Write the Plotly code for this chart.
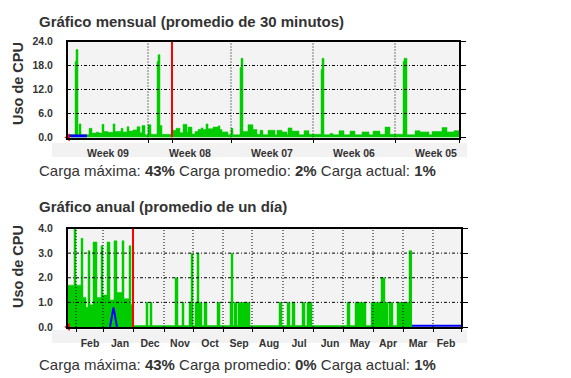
import plotly.graph_objects as go

# ---------------- Monthly graph data (2-hour samples, newest on the left) ----------------
MONTH_SPAN = [7, 1, 2, 1, 2, 8, 3, 4, 3, 3,
              2, 4, 5, 2, 6, 2, 4, 2, 4, 4,
              3, 2, 3, 3, 3, 6, 1, 2, 2, 11,
              3, 4, 3, 4, 1, 4, 3, 3, 3, 2,
              3, 2, 5, 5, 2, 2, 6, 3, 2, 7,
              1, 2, 5, 5, 4, 3, 3, 5, 7, 2,
              5, 5, 1, 4, 7, 5, 5, 12, 1, 2,
              6, 3, 6, 5, 6, 5, 7, 7, 4, 7,
              5, 5, 13, 1, 3, 8, 5, 9, 3, 10,
              5, 7, 5]
MONTH_CPU = [0.7, 19, 22, 0.7, 3.4, 0.7, 2.3, 1.1, 1.3, 1.1,
             3.3, 1.5, 1.3, 3.4, 1.5, 2.3, 1.4, 2.7, 1.6, 1.9,
             2.7, 1.2, 3.0, 0.7, 3.2, 0.8, 19, 20.7, 3.0, 0.8,
             1.8, 2.3, 1.2, 3.3, 1.4, 2.6, 0.9, 1.5, 2.0, 2.4,
             2.0, 3.4, 2.2, 2.6, 2.9, 2.0, 1.4, 0.7, 2.3, 0.7,
             17.5, 19.8, 1.5, 3.2, 2.0, 0.8, 1.8, 0.7, 1.8, 0.7,
             1.8, 1.4, 0.7, 2.4, 1.6, 0.7, 1.7, 0.8, 17, 19.8,
             0.7, 1.0, 0.7, 1.7, 0.7, 1.6, 0.7, 1.4, 0.7, 1.6,
             0.8, 2.6, 0.8, 19, 19.8, 0.7, 1.7, 1.4, 0.7, 1.5,
             2.5, 1.4, 1.7]
MONTH_BLUE_X = [0, 19]
MONTH_BLUE_Y = [0.4, 0.4]
MONTH_RANGE = [0, 391]
MONTH_RED = 104
MONTH_WEEK_BOUNDS = [80, 163, 245, 327]
MONTH_LABEL_POS = [40, 122, 204, 286, 368]
MONTH_LABELS = ["Week 09", "Week 08", "Week 07", "Week 06", "Week 05"]
MONTH_YTICKS = [0, 6, 12, 18, 24]
MONTH_YTEXT = ["0.0", "6.0", "12.0", "18.0", "24.0"]

# ---------------- Yearly graph data (daily samples, newest on the left) ----------------
YEAR_SPAN = [6, 2, 5, 2, 3, 2, 2, 3, 4, 4,
             2, 4, 3, 4, 3, 5, 2, 5, 2, 2,
             13, 2, 2, 2, 23, 3, 4, 2, 5, 2,
             2, 2, 2, 2, 3, 2, 3, 10, 3, 10,
             1, 2, 1, 3, 1, 12, 29, 3, 5, 3,
             2, 3, 7, 3, 2, 5, 35, 3, 5, 11,
             5, 10, 4, 3, 1, 4, 4, 12, 3]
YEAR_CPU = [1.7, 4.0, 1.7, 3.6, 1.2, 0.8, 3.1, 0.9, 3.45, 1.2,
            3.3, 1.3, 3.45, 1.1, 3.5, 1.4, 3.5, 1.15, 3.3, 0.9,
            0.06, 1.0, 0.06, 1.0, 0.06, 2.0, 0.06, 1.0, 0.06, 1.0,
            3.0, 0.06, 1.0, 3.0, 1.0, 0.06, 1.0, 0.06, 1.0, 0.06,
            1.0, 3.0, 0.06, 1.0, 0.06, 1.0, 0.06, 1.0, 0.06, 1.0,
            0.06, 1.0, 0.06, 1.0, 0.06, 1.0, 0.06, 1.0, 0.06, 1.0,
            0.06, 1.0, 2.0, 1.0, 0.06, 1.0, 0.06, 1.0, 3.1]
YEAR_BLUE_X = [42, 45.5, 49, None, 344, 393]
YEAR_BLUE_Y = [0, 0.8, 0, None, 0.05, 0.05]
YEAR_RANGE = [0, 393]
YEAR_RED = 65
YEAR_MONTH_BOUNDS = [8, 35, 96, 125, 155, 184, 215, 245, 275, 305, 335, 365]
YEAR_LABEL_POS = [22, 52, 82, 112, 142, 171, 201, 231, 262, 292, 320, 350, 378]
YEAR_LABELS = ["Feb", "Jan", "Dec", "Nov", "Oct", "Sep", "Aug", "Jul",
               "Jun", "May", "Apr", "Mar", "Feb"]
YEAR_YTICKS = [0, 1, 2, 3, 4]
YEAR_YTEXT = ["0.0", "1.0", "2.0", "3.0", "4.0"]

TITLE_MONTH = "Gráfico mensual (promedio de 30 minutos)"
TITLE_YEAR = "Gráfico anual (promedio de un día)"
STATS_MONTH = ("43%", "2%", "1%")
STATS_YEAR = ("43%", "0%", "1%")
YTITLE = "Uso de CPU"

GREEN = "#00cc00"
BLUE = "#0000ff"
RED = "#ff0000"
TXT = "#333333"
FONT = "Liberation Sans, Arial, sans-serif"
PAGE_OFFSET = 8          # the page body margin shifts the figure by 8 px
W, H = 571 - PAGE_OFFSET, 378 - PAGE_OFFSET


def px(v):
    return (v - PAGE_OFFSET) / W


def py(v):
    return 1 - (v - PAGE_OFFSET) / H


def steps(span, vals):
    xs = [0]
    for s in span:
        xs.append(xs[-1] + s)
    ys = list(vals) + [vals[-1]]
    return xs, ys


fig = go.Figure()

# ---- monthly traces
mx, my = steps(MONTH_SPAN, MONTH_CPU)
fig.add_trace(go.Scatter(x=mx, y=my, mode="lines", line=dict(shape="hv", width=0.5, color=GREEN),
                         fill="tozeroy", fillcolor=GREEN, xaxis="x", yaxis="y",
                         showlegend=False, hoverinfo="skip"))
fig.add_trace(go.Scatter(x=MONTH_BLUE_X, y=MONTH_BLUE_Y, mode="lines", line=dict(color=BLUE, width=3),
                         xaxis="x", yaxis="y", showlegend=False, hoverinfo="skip"))
fig.add_trace(go.Scatter(x=[MONTH_RANGE[0]], y=[0], mode="markers",
                         marker=dict(symbol="triangle-left", size=7, color=RED),
                         cliponaxis=False, xaxis="x", yaxis="y", showlegend=False, hoverinfo="skip"))
fig.add_trace(go.Scatter(x=[None], y=[None], xaxis="x3", yaxis="y", showlegend=False, hoverinfo="skip"))
fig.add_trace(go.Scatter(x=[None], y=[None], xaxis="x", yaxis="y3", showlegend=False, hoverinfo="skip"))

# ---- yearly traces
yx, yy = steps(YEAR_SPAN, YEAR_CPU)
fig.add_trace(go.Scatter(x=yx, y=yy, mode="lines", line=dict(shape="hv", width=0.5, color=GREEN),
                         fill="tozeroy", fillcolor=GREEN, xaxis="x2", yaxis="y2",
                         showlegend=False, hoverinfo="skip"))
fig.add_trace(go.Scatter(x=YEAR_BLUE_X, y=YEAR_BLUE_Y, mode="lines", line=dict(color=BLUE, width=2),
                         xaxis="x2", yaxis="y2", showlegend=False, hoverinfo="skip", connectgaps=False))
fig.add_trace(go.Scatter(x=[YEAR_RANGE[0]], y=[0], mode="markers",
                         marker=dict(symbol="triangle-left", size=7, color=RED),
                         cliponaxis=False, xaxis="x2", yaxis="y2", showlegend=False, hoverinfo="skip"))
fig.add_trace(go.Scatter(x=[None], y=[None], xaxis="x4", yaxis="y2", showlegend=False, hoverinfo="skip"))
fig.add_trace(go.Scatter(x=[None], y=[None], xaxis="x2", yaxis="y4", showlegend=False, hoverinfo="skip"))

tickfont = dict(family=FONT, size=10.5, color=TXT, weight="bold")


def main_x(domain, rng, pos, labels, anchor):
    return dict(domain=domain, range=rng, anchor=anchor, tickmode="array", tickvals=pos, ticktext=labels,
                ticks="", showgrid=False, zeroline=False, showline=True, mirror=True,
                linecolor="black", linewidth=2, tickfont=tickfont, ticklabelstandoff=5,
                fixedrange=True, automargin=False)


def main_y(domain, rng, vals, text, anchor):
    return dict(domain=domain, range=rng, anchor=anchor, tickmode="array", tickvals=vals, ticktext=text,
                ticks="", showgrid=False, zeroline=False, showline=True, mirror=True,
                linecolor="black", linewidth=2, tickfont=tickfont, ticklabelstandoff=11,
                fixedrange=True, automargin=False)


def tick_x(over, anchor, rng, vals):
    return dict(overlaying=over, anchor=anchor, side="bottom", range=rng, tickmode="array",
                tickvals=vals, ticks="outside", ticklen=4, tickwidth=1, tickcolor="black",
                showticklabels=False, showgrid=False, zeroline=False, showline=False,
                automargin=False, fixedrange=True)


def tick_y(over, anchor, rng, vals):
    return dict(overlaying=over, anchor=anchor, side="right", range=rng, tickmode="array",
                tickvals=vals, ticks="outside", ticklen=6, tickwidth=1, tickcolor="black",
                showticklabels=False, showgrid=False, zeroline=False, showline=False,
                automargin=False, fixedrange=True)


shapes = []
# label strips
for top, bot in [(143, 157), (330, 343)]:
    shapes.append(dict(type="rect", xref="paper", yref="paper", x0=px(52), x1=px(467),
                       y0=py(bot), y1=py(top), fillcolor="#f2f2f2", line=dict(width=0), layer="below"))

# monthly grid
for v in MONTH_WEEK_BOUNDS:
    shapes.append(dict(type="line", xref="x", yref="y", x0=v, x1=v, y0=0, y1=MONTH_YTICKS[-1],
                       line=dict(color="black", width=1, dash="1px,2px"), layer="above"))
for h in MONTH_YTICKS[1:-1]:
    shapes.append(dict(type="line", xref="x", yref="y", x0=MONTH_RANGE[0], x1=MONTH_RANGE[1], y0=h, y1=h,
                       line=dict(color="black", width=1, dash="3px,2px,1px,2px"), layer="above"))
shapes.append(dict(type="line", xref="x", yref="y", x0=MONTH_RED, x1=MONTH_RED, y0=0, y1=MONTH_YTICKS[-1],
                   line=dict(color=RED, width=2), layer="above"))

# yearly grid
for v in YEAR_MONTH_BOUNDS:
    shapes.append(dict(type="line", xref="x2", yref="y2", x0=v, x1=v, y0=0, y1=YEAR_YTICKS[-1],
                       line=dict(color="black", width=1, dash="1px,2px"), layer="above"))
for h in YEAR_YTICKS[1:-1]:
    shapes.append(dict(type="line", xref="x2", yref="y2", x0=YEAR_RANGE[0], x1=YEAR_RANGE[1], y0=h, y1=h,
                       line=dict(color="black", width=1, dash="3px,2px,1px,2px"), layer="above"))
shapes.append(dict(type="line", xref="x2", yref="y2", x0=YEAR_RED, x1=YEAR_RED, y0=0, y1=YEAR_YTICKS[-1],
                   line=dict(color=RED, width=2), layer="above"))


def stats_text(s):
    return ("Carga máxima: <b>%s</b> Carga promedio: <b>%s</b> Carga actual: <b>%s</b>" % s)


def note(text, x, y, size, angle=0, anchor="left"):
    return dict(text=text, x=px(x), y=py(y), xref="paper", yref="paper", textangle=angle,
                xanchor=anchor, yanchor="middle", showarrow=False,
                font=dict(family=FONT, size=size, color=TXT))


annotations = [
    note("<b>%s</b>" % TITLE_MONTH, 37, 21.5, 15),
    note(stats_text(STATS_MONTH), 37, 170, 15),
    note("<b>%s</b>" % TITLE_YEAR, 37, 206, 15),
    note(stats_text(STATS_YEAR), 37, 364, 15),
    note("<b>%s</b>" % YTITLE, 18, 84, 14.5, angle=-90, anchor="center"),
    note("<b>%s</b>" % YTITLE, 18, 267, 14.5, angle=-90, anchor="center"),
]

m_xdom = [px(68), px(459)]
m_ydom = [py(137.5), py(41.5)]
y_xdom = [px(68), px(461)]
y_ydom = [py(327), py(228.5)]

fig.update_layout(
    width=W, height=H, autosize=False,
    margin=dict(l=0, r=0, t=0, b=0, pad=0, autoexpand=False),
    paper_bgcolor="white", plot_bgcolor="#f3f3f3",
    showlegend=False,
    xaxis=main_x(m_xdom, MONTH_RANGE, MONTH_LABEL_POS, MONTH_LABELS, "y"),
    yaxis=main_y(m_ydom, [0, MONTH_YTICKS[-1]], MONTH_YTICKS, MONTH_YTEXT, "x"),
    xaxis3=tick_x("x", "y", MONTH_RANGE, MONTH_WEEK_BOUNDS + [MONTH_RED, MONTH_RANGE[1]]),
    yaxis3=tick_y("y", "x", [0, MONTH_YTICKS[-1]], MONTH_YTICKS),
    xaxis2=main_x(y_xdom, YEAR_RANGE, YEAR_LABEL_POS, YEAR_LABELS, "y2"),
    yaxis2=main_y(y_ydom, [0, YEAR_YTICKS[-1]], YEAR_YTICKS, YEAR_YTEXT, "x2"),
    xaxis4=tick_x("x2", "y2", YEAR_RANGE, YEAR_MONTH_BOUNDS + [YEAR_RED, YEAR_RANGE[1]]),
    yaxis4=tick_y("y2", "x2", [0, YEAR_YTICKS[-1]], YEAR_YTICKS),
    shapes=shapes,
    annotations=annotations,
)

fig.write_html("out.html", config={"displayModeBar": False, "staticPlot": True})
